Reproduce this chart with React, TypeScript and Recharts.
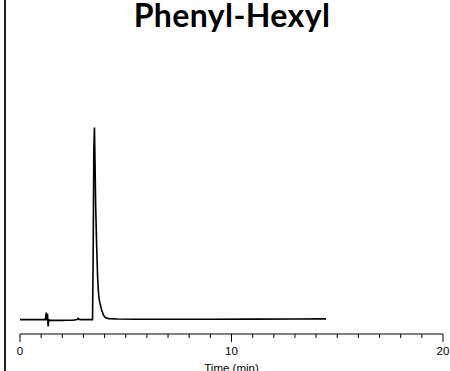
import React from 'react';
import { LineChart, Line, XAxis, YAxis } from 'recharts';

// Chromatogram trace: retention time (min) and detector response (relative units)
const times = [
  0, 0.5, 1.0, 1.2, 1.24, 1.27, 1.3, 1.33, 1.36, 1.4, 1.6, 1.8, 2.0, 2.2, 2.5, 2.7, 2.75, 2.8, 2.9,
  3.2, 3.43, 3.46, 3.49, 3.52, 3.55, 3.58, 3.62, 3.67, 3.71, 3.75, 3.86, 3.95, 4.05, 4.2, 4.6,
  5.5, 7.0, 9.0, 11.0, 13.0, 14.47,
];
const response = [
  0, 0, 0, 0, 3.6, -0.5, 3.0, -3.6, 0, -0.3, -0.4, -0.3, -0.4, -0.3, -0.3, 0, 0.6, 0.1, 0,
  0, 0, 35, 88, 100, 80, 58, 40, 22, 14, 10, 5, 2.2, 1.0, 0.5, 0.3,
  0.2, 0.15, 0.2, 0.25, 0.35, 0.4,
];

const xTicks = Array.from({ length: 21 }, (_, i) => i);
const labeledTicks = [0, 10, 20];
const title = 'Phenyl-Hexyl';
const xLabel = 'Time (min)';

const data = times.map((t, i) => ({ t, v: response[i] }));

const TimeTick = (props: any) => {
  const { x, y, payload } = props;
  const major = labeledTicks.includes(payload.value);
  return (
    <g>
      <line x1={x} y1={y} x2={x} y2={y + (major ? 8 : 4)} stroke="#000" strokeWidth={1} />
      {major && (
        <text
          x={x}
          y={y + 21}
          textAnchor="middle"
          fontFamily="'Liberation Sans', Arial, sans-serif"
          fontSize={11.5}
          fill="#000"
        >
          {payload.value}
        </text>
      )}
    </g>
  );
};

const AxisTitle = (props: any) => {
  const { viewBox } = props;
  return (
    <text
      x={viewBox.x + viewBox.width / 2}
      y={viewBox.y + 38}
      textAnchor="middle"
      fontFamily="'Liberation Sans', Arial, sans-serif"
      fontSize={11.5}
      fill="#000"
    >
      {xLabel}
    </text>
  );
};

export default function App() {
  return (
    <div style={{ position: 'absolute', left: 0, top: 0, width: 450, height: 371, background: '#fff', overflow: 'hidden' }}>
      <div
        style={{
          position: 'absolute',
          left: 4,
          top: 0,
          width: 2,
          height: 371,
          background: '#222',
        }}
      />
      <div
        style={{
          position: 'absolute',
          left: 0,
          width: 464,
          top: -4,
          textAlign: 'center',
          fontFamily: 'Lato, sans-serif',
          fontWeight: 700,
          fontSize: 32,
          letterSpacing: 0.4,
          lineHeight: '38px',
          color: '#000',
        }}
      >
        {title}
      </div>
      <LineChart
        width={450}
        height={371}
        data={data}
        margin={{ top: 70, right: 7, bottom: 0, left: 20 }}
      >
        <XAxis
          dataKey="t"
          type="number"
          domain={[0, 20]}
          ticks={xTicks}
          interval={0}
          tickLine={false}
          tickSize={0}
          tickMargin={0}
          height={37}
          axisLine={{ stroke: '#000', strokeWidth: 1 }}
          tick={<TimeTick />}
          label={<AxisTitle />}
        />
        <YAxis hide domain={[-7.5, 130]} type="number" allowDataOverflow />
        <Line
          type="linear"
          dataKey="v"
          stroke="#000"
          strokeWidth={1.6}
          dot={false}
          isAnimationActive={false}
        />
      </LineChart>
    </div>
  );
}
